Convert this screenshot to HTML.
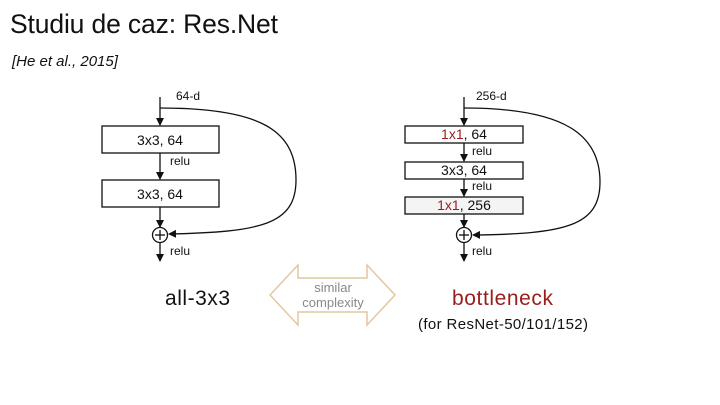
<!DOCTYPE html><html><head><style>body{margin:0;background:#fff}svg{display:block}</style></head><body>
<svg width="720" height="405" viewBox="0 0 720 405" xmlns="http://www.w3.org/2000/svg" font-family="Liberation Sans, sans-serif">
<defs><marker id="a" markerWidth="8" markerHeight="8" refX="7" refY="4" orient="auto" markerUnits="userSpaceOnUse"><path d="M0,0L8,4L0,8z" fill="#111"/></marker></defs>
<text x="10" y="33" font-size="26.5" fill="#111" textLength="268">Studiu de caz: Res.Net</text>
<text x="12" y="66" font-size="15" font-style="italic" fill="#111">[He et al., 2015]</text>
<g stroke="#111" stroke-width="1.3" fill="none">
<line x1="160" y1="97" x2="160" y2="125" marker-end="url(#a)"/>
<rect x="102" y="126" width="117" height="27" fill="#fff"/>
<line x1="160" y1="153" x2="160" y2="179" marker-end="url(#a)"/>
<rect x="102" y="180" width="117" height="27" fill="#fff"/>
<line x1="160" y1="207" x2="160" y2="227" marker-end="url(#a)"/>
<circle cx="160" cy="235" r="7.5"/><line x1="155" y1="235" x2="165" y2="235"/><line x1="160" y1="230" x2="160" y2="240"/>
<line x1="160" y1="243" x2="160" y2="261" marker-end="url(#a)"/>
<path d="M160,108 C260,108 296,130 296,180 C296,225 260,232 169,234" marker-end="url(#a)"/>
<line x1="464" y1="97" x2="464" y2="125" marker-end="url(#a)"/>
<rect x="405" y="126" width="118" height="17" fill="#fff"/>
<line x1="464" y1="143" x2="464" y2="161" marker-end="url(#a)"/>
<rect x="405" y="162" width="118" height="17" fill="#fff"/>
<line x1="464" y1="179" x2="464" y2="196" marker-end="url(#a)"/>
<rect x="405" y="197" width="118" height="17" fill="#f4f4f4"/>
<line x1="464" y1="214" x2="464" y2="227" marker-end="url(#a)"/>
<circle cx="464" cy="235" r="7.5"/><line x1="459" y1="235" x2="469" y2="235"/><line x1="464" y1="230" x2="464" y2="240"/>
<line x1="464" y1="243" x2="464" y2="261" marker-end="url(#a)"/>
<path d="M464,108 C565,108 600,135 600,182 C600,226 565,234 473,235" marker-end="url(#a)"/>
</g>
<g font-size="12" fill="#111">
<text x="176" y="100">64-d</text><text x="476" y="100">256-d</text>
<text x="170" y="165">relu</text><text x="170" y="255">relu</text>
<text x="472" y="155">relu</text><text x="472" y="190">relu</text><text x="472" y="255">relu</text>
</g>
<g font-size="14" fill="#111" text-anchor="middle">
<text x="160" y="145">3x3, 64</text><text x="160" y="199">3x3, 64</text>
<text x="464" y="139"><tspan fill="#9b1c1c">1x1</tspan>, 64</text>
<text x="464" y="175">3x3, 64</text>
<text x="464" y="210"><tspan fill="#9b1c1c">1x1</tspan>, 256</text>
</g>
<path d="M270,295 L298,265 L298,278 L367,278 L367,265 L395,295 L367,325 L367,312 L298,312 L298,325 Z" fill="none" stroke="#e3c7a0" stroke-width="1.5"/>
<g font-size="13" fill="#888" text-anchor="middle"><text x="333" y="292">similar</text><text x="333" y="307">complexity</text></g>
<text x="165" y="305" font-size="21" fill="#111" textLength="65">all-3x3</text>
<text x="452" y="305" font-size="21" fill="#9b1c1c" textLength="101">bottleneck</text>
<text x="418" y="329" font-size="15" fill="#111" textLength="170">(for ResNet-50/101/152)</text>
</svg></body></html>
